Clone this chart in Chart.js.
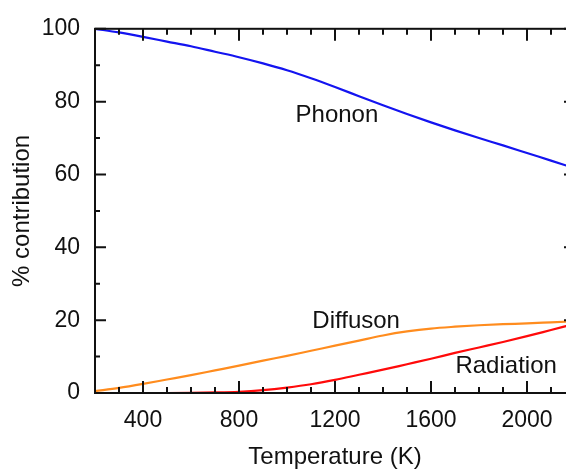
<!DOCTYPE html>
<html>
<head>
<meta charset="utf-8">
<script src="https://cdn.jsdelivr.net/npm/chart.js@4.4.1/dist/chart.umd.min.js"></script>
<style>
  html, body { margin: 0; padding: 0; background: #fff; overflow: hidden; }
  .wrap { width: 580px; height: 469px; }
</style>
</head>
<body>
<div class="wrap"><canvas id="chartContrib"></canvas></div>
<script>
const temperatures = [200, 300, 400, 500, 600, 700, 800, 900, 1000, 1100, 1200, 1300, 1400, 1500, 1600, 1700, 1800, 1900, 2000, 2100, 2200];
const phonon    = [100, 99.0, 97.8, 96.5, 95.2, 93.7, 92.2, 90.5, 88.6, 86.4, 84.0, 81.5, 79.0, 76.6, 74.3, 72.1, 70.0, 68.0, 65.9, 63.8, 61.7];
const diffuson  = [0.5, 1.4, 2.5, 3.7, 4.9, 6.2, 7.5, 8.9, 10.2, 11.6, 13.0, 14.4, 15.8, 16.9, 17.7, 18.2, 18.6, 18.9, 19.1, 19.4, 19.7];
const radiation = [0, 0, 0, 0, 0.05, 0.15, 0.35, 0.8, 1.5, 2.4, 3.6, 5.0, 6.4, 7.9, 9.4, 11.0, 12.5, 14.0, 15.6, 17.3, 19.0];
const xTickLabels = [400, 800, 1200, 1600, 2000];
const yTickLabels = [0, 20, 40, 60, 80, 100];

// curve labels: [text, temperature, percent]
const curveLabels = [
  ["Phonon", 1208, 76.1],
  ["Diffuson", 1288, 19.8],
  ["Radiation", 1913, 7.3],
];

const FONT = "'Liberation Sans', Arial, sans-serif";

function toPoints(values) {
  return temperatures.map((t, i) => ({ x: t, y: values[i] }));
}

// frame, inward ticks and curve names
const framePlugin = {
  id: "frame",
  afterDraw(chart) {
    const ctx = chart.ctx;
    const a = chart.chartArea;
    const x = chart.scales.x;
    const y = chart.scales.y;
    ctx.save();
    ctx.strokeStyle = "#111";
    ctx.lineWidth = 2;
    ctx.beginPath();
    for (let t = 200; t <= 2200; t += 100) {
      const px = x.getPixelForValue(t);
      const len = xTickLabels.includes(t) ? 12 : 6;
      ctx.moveTo(px, a.bottom); ctx.lineTo(px, a.bottom - len);
      ctx.moveTo(px, a.top); ctx.lineTo(px, a.top + len);
    }
    for (let v = 0; v <= 100; v += 10) {
      const py = y.getPixelForValue(v);
      const len = v % 20 === 0 ? 11 : 5;
      ctx.moveTo(a.left, py); ctx.lineTo(a.left + len, py);
      ctx.moveTo(a.right, py); ctx.lineTo(a.right - len, py);
    }
    ctx.stroke();
    ctx.strokeRect(a.left, a.top, a.right - a.left, a.bottom - a.top);

    ctx.fillStyle = "#111";
    ctx.font = "24px " + FONT;
    ctx.textAlign = "center";
    ctx.textBaseline = "middle";
    curveLabels.forEach(([txt, t, v]) => {
      ctx.fillText(txt, x.getPixelForValue(t), y.getPixelForValue(v));
    });
    ctx.restore();
  },
};

const ctxContrib = document.getElementById("chartContrib").getContext("2d");
const chartContrib = new Chart(ctxContrib, {
  type: "line",
  data: {
    datasets: [
      { label: "Phonon", data: toPoints(phonon), borderColor: "#1414f0" },
      { label: "Diffuson", data: toPoints(diffuson), borderColor: "#ff8c1e" },
      { label: "Radiation", data: toPoints(radiation), borderColor: "#ff0a0a" },
    ],
  },
  options: {
    responsive: true,
    maintainAspectRatio: false,
    animation: false,
    layout: { padding: { left: 0, right: 5, top: 25, bottom: 0 } },
    elements: {
      line: { borderWidth: 2.2, tension: 0.4, cubicInterpolationMode: "monotone" },
      point: { radius: 0 },
    },
    plugins: {
      legend: { display: false },
      tooltip: { enabled: false },
    },
    scales: {
      x: {
        type: "linear",
        min: 200,
        max: 2200,
        afterBuildTicks: (s) => { s.ticks = xTickLabels.map((v) => ({ value: v })); },
        afterFit: (s) => { s.height = 76; },
        grid: { display: false, drawTicks: false },
        border: { display: false },
        ticks: { padding: 14, color: "#111", font: { family: FONT, size: 23 }, callback: (v) => String(v) },
        title: {
          display: true,
          text: "Temperature (K)",
          color: "#111",
          font: { family: FONT, size: 24 },
          padding: { top: 0, bottom: -3 },
        },
      },
      y: {
        min: 0,
        max: 100,
        afterBuildTicks: (s) => { s.ticks = yTickLabels.map((v) => ({ value: v })); },
        afterFit: (s) => { s.width = 95; },
        grid: { display: false, drawTicks: false },
        border: { display: false },
        ticks: { padding: 15, color: "#111", font: { family: FONT, size: 23 }, callback: (v) => String(v) },
        title: {
          display: true,
          text: "% contribution",
          color: "#111",
          font: { family: FONT, size: 24 },
          padding: { top: 8, bottom: 0 },
        },
      },
    },
  },
  plugins: [framePlugin],
});
</script>
</body>
</html>
